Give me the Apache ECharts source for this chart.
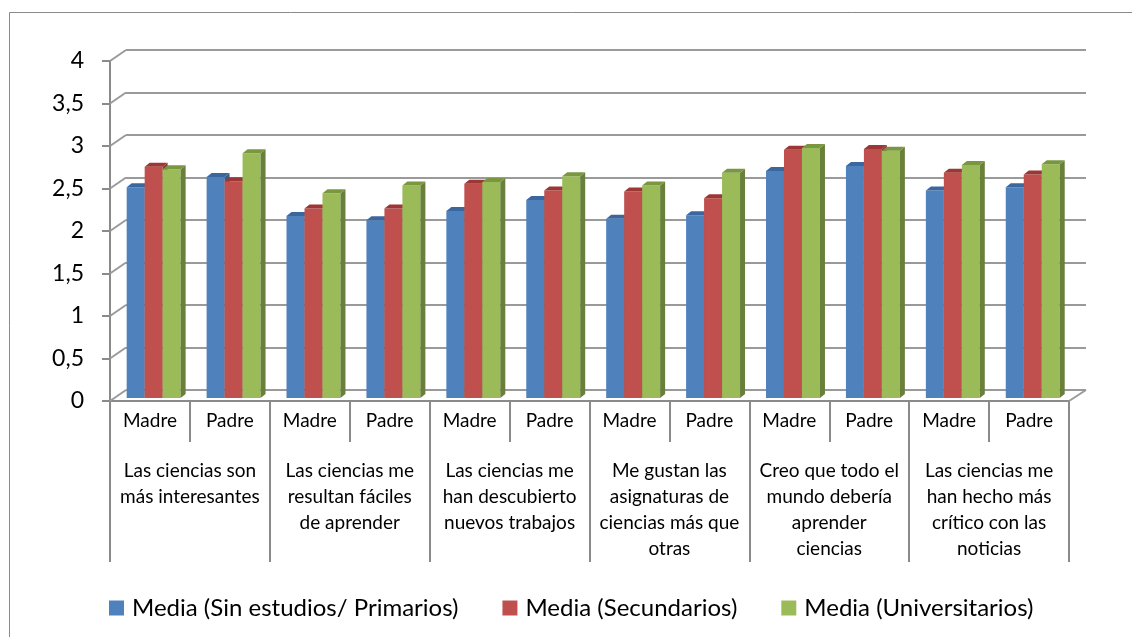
<!DOCTYPE html>
<html>
<head>
<meta charset="utf-8">
<script src="https://cdn.jsdelivr.net/npm/echarts@6/dist/echarts.min.js"></script>
<style>
  html, body { margin: 0; padding: 0; background: #fff; }
  #chart { width: 1132px; height: 637px; }
</style>
</head>
<body>
<div id="chart"></div>
<script>
// data
const parents = ["Madre", "Padre", "Madre", "Padre", "Madre", "Padre", "Madre", "Padre", "Madre", "Padre", "Madre", "Padre"];
const statements = [
  "Las ciencias son\nmás interesantes",
  "Las ciencias me\nresultan fáciles\nde aprender",
  "Las ciencias me\nhan descubierto\nnuevos trabajos",
  "Me gustan las\nasignaturas de\nciencias más que\notras",
  "Creo que todo el\nmundo debería\naprender\nciencias",
  "Las ciencias me\nhan hecho más\ncrítico con las\nnoticias"
];
const seriesNames = ["Media (Sin estudios/ Primarios)", "Media (Secundarios)", "Media (Universitarios)"];
const primarios = [2.48, 2.60, 2.14, 2.09, 2.20, 2.33, 2.11, 2.15, 2.67, 2.73, 2.44, 2.48];
const secundarios = [2.72, 2.55, 2.23, 2.23, 2.52, 2.44, 2.43, 2.35, 2.92, 2.93, 2.65, 2.63];
const universitarios = [2.69, 2.88, 2.41, 2.50, 2.54, 2.61, 2.50, 2.65, 2.94, 2.91, 2.74, 2.75];
const yTicks = [0, 0.5, 1, 1.5, 2, 2.5, 3, 3.5, 4];

// styles
const FONT = "Lato";
const GRID_GRAY = "#9a9a9a";
const AXIS_GRAY = "#8a8a8a";
const faces = [
  { front: "#4F81BD", top: "#3B679E", side: "#385D8A" },
  { front: "#C0504D", top: "#9C3734", side: "#8C3533" },
  { front: "#9BBB59", top: "#7A9740", side: "#68803A" }
];
const DEPTH = [16, -11];

const chart = echarts.init(document.getElementById("chart"));

const barSeries = (name, values, idx) => ({
  name,
  type: "custom",
  xAxisIndex: 0,
  yAxisIndex: 0,
  itemStyle: { color: faces[idx].front },
  data: values.map((v, i) => [i, v]),
  renderItem: (params, api) => {
    const top = api.coord([api.value(0), api.value(1)]);
    const base = api.coord([api.value(0), 0]);
    const bw = api.size([1, 0])[0];
    const w = bw * 18 / 80;
    const x = top[0] - bw * 23.3 / 80 + idx * w;
    const yt = top[1] - 3;
    const yb = base[1] - 3;
    const dx = 5, dy = -4;
    const f = faces[idx];
    return {
      type: "group",
      children: [
        { type: "rect", shape: { x, y: yt, width: w, height: yb - yt }, style: { fill: f.front } },
        { type: "polygon", shape: { points: [[x + w, yt], [x + w + dx, yt + dy], [x + w + dx, yb + dy], [x + w, yb]] }, style: { fill: f.side } },
        { type: "polygon", shape: { points: [[x, yt], [x + w, yt], [x + w + dx, yt + dy], [x + dx, yt + dy]] }, style: { fill: f.top } }
      ]
    };
  }
});

chart.setOption({
  animation: false,
  textStyle: { fontFamily: FONT },
  graphic: [{
    type: "rect",
    shape: { x: 9.5, y: 12.5, width: 1140, height: 640 },
    style: { fill: null, stroke: "#8a8a8a", lineWidth: 1 },
    silent: true
  }],
  legend: {
    data: seriesNames,
    left: 104,
    top: 591,
    icon: "rect",
    itemWidth: 15,
    itemHeight: 15,
    itemGap: 44,
    textStyle: { fontFamily: FONT, fontSize: 24, color: "#000", padding: [0, 0, 0, 3] }
  },
  grid: [
    { left: 110, right: 63, top: 61, bottom: 236 },
    { left: 126, right: 46, top: 50, bottom: 247 }
  ],
  xAxis: [
    {
      gridIndex: 0,
      type: "category",
      data: parents,
      position: "bottom",
      axisLine: { show: true, lineStyle: { color: AXIS_GRAY, width: 2 } },
      axisTick: { show: true, interval: 0, length: 41, lineStyle: { color: AXIS_GRAY, width: 2 } },
      axisLabel: { interval: 0, margin: 10, fontFamily: FONT, fontSize: 19, color: "#000" }
    },
    {
      gridIndex: 0,
      type: "category",
      data: statements,
      position: "bottom",
      offset: 0,
      axisLine: { show: false },
      axisTick: { show: true, interval: 0, length: 161, lineStyle: { color: AXIS_GRAY, width: 2 } },
      axisLabel: { interval: 0, margin: 57, fontFamily: FONT, fontSize: 19, lineHeight: 26, color: "#000", verticalAlign: "top" }
    },
    { gridIndex: 1, type: "value", min: 0, max: 1, show: false }
  ],
  yAxis: [
    {
      gridIndex: 0,
      type: "value",
      min: 0,
      max: 4,
      interval: 0.5,
      axisLine: { show: true, lineStyle: { color: AXIS_GRAY, width: 2 } },
      axisTick: { show: true, length: 8, lineStyle: { color: AXIS_GRAY, width: 2 } },
      axisLabel: {
        margin: 26,
        fontFamily: FONT,
        fontSize: 23,
        color: "#000",
        formatter: (v) => String(v).replace(".", ",")
      },
      splitLine: { show: false }
    },
    {
      gridIndex: 1,
      type: "value",
      min: 0,
      max: 4,
      interval: 0.5,
      axisLine: { show: false },
      axisTick: { show: false },
      axisLabel: { show: false },
      splitLine: { show: true, lineStyle: { color: GRID_GRAY, width: 2 } }
    }
  ],
  series: [
    {
      // diagonal connectors from front ticks to back wall
      type: "custom",
      xAxisIndex: 0,
      yAxisIndex: 0,
      silent: true,
      data: yTicks.map((v) => [0, v]),
      renderItem: (params, api) => {
        const p = api.coord([0, api.value(1)]);
        const x0 = p[0] - api.size([1, 0])[0] / 2;
        return {
          type: "line",
          shape: { x1: x0, y1: p[1], x2: x0 + DEPTH[0], y2: p[1] + DEPTH[1] },
          style: { stroke: GRID_GRAY, lineWidth: 2 }
        };
      }
    },
    {
      // right edge of the floor
      type: "custom",
      xAxisIndex: 0,
      yAxisIndex: 0,
      silent: true,
      data: [[parents.length - 1, 0]],
      renderItem: (params, api) => {
        const p = api.coord([api.value(0), 0]);
        const x0 = p[0] + api.size([1, 0])[0] / 2;
        return {
          type: "line",
          shape: { x1: x0, y1: p[1], x2: x0 + DEPTH[0] + 1, y2: p[1] + DEPTH[1] },
          style: { stroke: GRID_GRAY, lineWidth: 2 }
        };
      }
    },
    barSeries(seriesNames[0], primarios, 0),
    barSeries(seriesNames[1], secundarios, 1),
    barSeries(seriesNames[2], universitarios, 2)
  ]
});
</script>
</body>
</html>
